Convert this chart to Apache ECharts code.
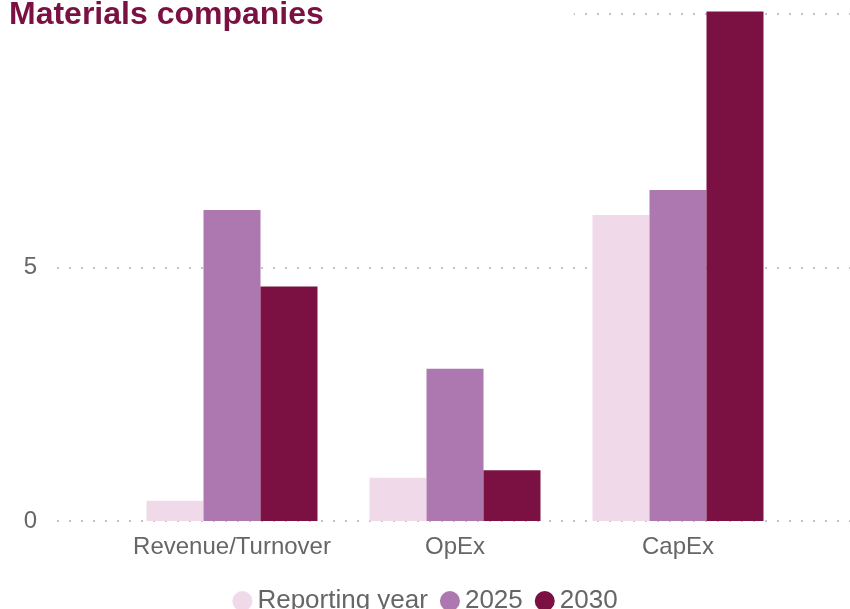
<!DOCTYPE html>
<html><head><meta charset="utf-8">
<script src="https://cdn.jsdelivr.net/npm/echarts@6/dist/echarts.min.js"></script>
<style>html,body{margin:0;padding:0;background:#fff}#c{width:850px;height:609px}</style>
</head><body><div id="c"></div>
<script>
const categories = ['Revenue/Turnover', 'OpEx', 'CapEx'];
const seriesNames = ['Reporting year', '2025', '2030'];
const reportingYear = [0.4, 0.85, 6.03];
const y2025 = [6.13, 3.0, 6.52];
const y2030 = [4.62, 1.0, 10.04];
const colors = ['#f0d9e8', '#ad78b0', '#7b1042'];

const chart = echarts.init(document.getElementById('c'), null, {renderer: 'canvas'});
const gridTop = 13.5, gridBottom = 88;
const font = 'Liberation Sans, Arial, sans-serif';
chart.setOption({
  animation: false,
  color: colors,
  title: {
    text: 'Materials companies', left: 0, top: -6,
    padding: [5, 250, 5, 9],
    backgroundColor: '#fff',
    textStyle: {fontFamily: font, fontSize: 32, fontWeight: 'bold', color: '#7b1042'},
    z: 10
  },
  legend: {
    bottom: -10, left: 'center',
    icon: 'circle', itemWidth: 20, itemHeight: 20, itemGap: 12,
    textStyle: {fontFamily: font, fontSize: 26, color: '#666'},
    data: seriesNames
  },
  grid: [
    {left: 57, right: 0, top: gridTop, bottom: gridBottom},
    {left: 120.5, right: 60.5, top: gridTop, bottom: gridBottom}
  ],
  xAxis: [
    {gridIndex: 0, type: 'category', data: categories, show: false},
    {gridIndex: 1, type: 'category', data: categories,
     axisLine: {show: false}, axisTick: {show: false},
     axisLabel: {fontFamily: font, fontSize: 24, color: '#666', margin: 14, interval: 0}}
  ],
  yAxis: [
    {gridIndex: 0, type: 'value', min: 0, max: 10, interval: 5,
     axisLine: {show: false}, axisTick: {show: false},
     axisLabel: {fontFamily: font, fontSize: 24, color: '#666', margin: 20, padding: [3, 0, 0, 0]},
     splitLine: {lineStyle: {color: '#c4c4c4', width: 2, type: [2, 10]}}},
    {gridIndex: 1, type: 'value', min: 0, max: 10, interval: 5, show: false,
     splitLine: {show: false}}
  ],
  series: [
    {name: seriesNames[0], type: 'bar', xAxisIndex: 1, yAxisIndex: 1, data: reportingYear, barWidth: 57, barGap: '0%', clip: false},
    {name: seriesNames[1], type: 'bar', xAxisIndex: 1, yAxisIndex: 1, data: y2025, barWidth: 57, barGap: '0%', clip: false},
    {name: seriesNames[2], type: 'bar', xAxisIndex: 1, yAxisIndex: 1, data: y2030, barWidth: 57, barGap: '0%', clip: false}
  ]
});
</script>
</body></html>
